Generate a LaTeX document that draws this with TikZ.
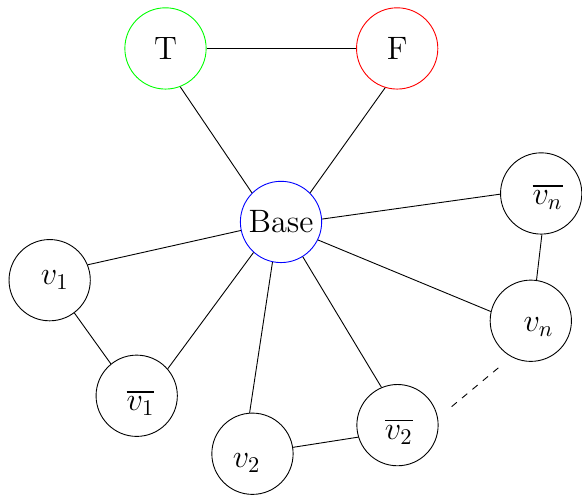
\documentclass[tikz,border=0pt]{standalone}
\usepackage{amsmath}
\usepackage{xcolor}
\usepackage{tikz}
\usetikzlibrary{shapes,positioning}

\begin{document}
\begin{tikzpicture}[
  vertex/.style={circle,draw,minimum size=1.27cm,inner sep=0pt,font=\Large},
  truenode/.style={vertex,draw=green},
  falsenode/.style={vertex,draw=red},
  basenode/.style={vertex,draw=blue},
  every label/.style={font=\Large,inner sep=0pt},
]
\useasboundingbox (0,0) rectangle (9.094,7.734);

\node [truenode] (T) at (2.586,6.977) {T};
\node [falsenode] (F) at (6.206,6.977) {F};
\node [basenode] (base) at (4.391,4.266) {Base};

\node [vertex,label={[xshift=0.08cm]center:$v_1$}] (v1) at (0.776,3.356) {};
\node [vertex,label={[xshift=0.06cm,yshift=-0.11cm]center:$\overline{v_1}$}] (nv1) at (2.136,1.550) {};
\node [vertex,label={[xshift=-0.09cm,yshift=-0.15cm]center:$v_2$}] (v2) at (3.945,0.644) {};
\node [vertex,label={[xshift=0.02cm,yshift=-0.10cm]center:$\overline{v_2}$}] (nv2) at (6.211,1.091) {};
\node [vertex,label={[xshift=0.12cm,yshift=-0.10cm]center:$v_n$}] (vn) at (8.294,2.722) {};
\node [vertex,label={[xshift=0.10cm,yshift=-0.05cm]center:$\overline{v_n}$}] (nvn) at (8.456,4.711) {};

% triangle on top
\draw (T.east) -- (F.west);
\draw (T.291) -- (base.135);
\draw (F.253) -- (base.45);

% spokes from the base
\draw (base.192) -- (v1.22);
\draw (base.-132) -- (nv1.41);
\draw (base.-102) -- (v2.94);
\draw (base.-58) -- (nv2.113);
\draw (base.-26) -- (vn.167);
\draw (base.4) -- (nvn.181);

% pairs
\draw (v1.-53) -- (nv1.129);
\draw (v2.9) -- (nv2.197);
\draw (vn.82) -- (nvn.271);

\coordinate (gapa) at (7.057,1.380);
\coordinate (gapb) at (7.823,2.016);
\draw[dashed] (gapa) -- (gapb);
\end{tikzpicture}
\end{document}
